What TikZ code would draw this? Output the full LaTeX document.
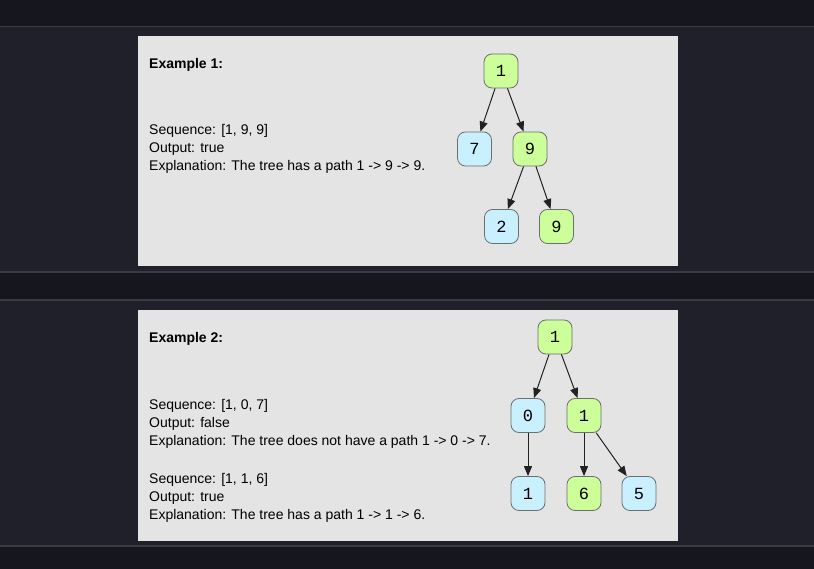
\documentclass[tikz,border=0pt]{standalone}
\usepackage{fontspec}
\setmainfont{Liberation Sans}
\newfontfamily\monofnt{Liberation Mono}
\usetikzlibrary{arrows.meta}
\definecolor{bgdark}{HTML}{16171E}
\definecolor{bglight}{HTML}{1F2029}
\definecolor{sepline}{HTML}{3A3B45}
\definecolor{panelbg}{HTML}{E4E4E4}
\definecolor{gnode}{HTML}{CCFF99}
\definecolor{bnode}{HTML}{C8F0FF}
\definecolor{nodeedge}{HTML}{6E6E6E}
\definecolor{arrowc}{HTML}{222222}
\tikzset{
  treenode/.style={draw=nodeedge, line width=0.8pt, rounded corners=8pt, minimum width=34pt, minimum height=34pt, inner sep=0pt, font=\monofnt\fontsize{17}{17}\selectfont},
  gn/.style={treenode, fill=gnode},
  bn/.style={treenode, fill=bnode},
  edgearrow/.style={draw=arrowc, line width=1pt, -{Triangle[length=10pt,width=8pt]}},
  txt/.style={anchor=base west, inner sep=0pt, font=\fontsize{14}{18}\selectfont, text=black},
  hdr/.style={txt, font=\bfseries\fontsize{14}{18}\selectfont},
}
\begin{document}
\begin{tikzpicture}[x=1pt,y=-1pt]
\useasboundingbox (0,0) rectangle (814,569);
% background bands
\fill[bgdark] (0,0) rectangle (814,569);
\fill[bglight] (0,27) rectangle (814,272);
\fill[bglight] (0,300) rectangle (814,546);
\draw[sepline, line width=1.2pt] (0,26.5) -- (814,26.5);
\draw[sepline, line width=1.2pt] (0,272) -- (814,272);
\draw[sepline, line width=1.2pt] (0,300) -- (814,300);
\draw[sepline, line width=1.2pt] (0,546) -- (814,546);
% panels
\fill[panelbg] (138,36) rectangle (678,266);
\fill[panelbg] (138,310) rectangle (678,541);

% Example 1 text
\node[hdr] (h1) at (149,68.3) {Example 1:};
\node[txt] (s1) at (149,135) {Sequence: [1, 9, 9]};
\node[txt] (o1) at (149,153) {Output: true};
\node[txt] (e1) at (149,171) {Explanation: The tree has a path 1 -> 9 -> 9.};

% Tree 1
\node[gn] (a1) at (501,71) {1};
\node[bn] (a7) at (474.5,149) {7};
\node[gn] (a9) at (530,149) {9};
\node[bn] (a2) at (501.5,226.5) {2};
\node[gn] (a9b) at (556.5,226.5) {9};
\draw[edgearrow] (a1) -- (a7);
\draw[edgearrow] (a1) -- (a9);
\draw[edgearrow] (a9) -- (a2);
\draw[edgearrow] (a9) -- (a9b);

% Example 2 text
\node[hdr] (h2) at (149,343) {Example 2:};
\node[txt] (s2) at (149,409.3) {Sequence: [1, 0, 7]};
\node[txt] (o2) at (149,427) {Output: false};
\node[txt] (e2) at (149,445.3) {Explanation: The tree does not have a path 1 -> 0 -> 7.};
\node[txt] (s3) at (149,483.5) {Sequence: [1, 1, 6]};
\node[txt] (o3) at (149,501.3) {Output: true};
\node[txt] (e3) at (149,519.5) {Explanation: The tree has a path 1 -> 1 -> 6.};

% Tree 2
\node[gn] (b1) at (555,337) {1};
\node[bn] (b0) at (528,415.5) {0};
\node[gn] (b1r) at (584,415.5) {1};
\node[bn] (b1l) at (528,493.5) {1};
\node[gn] (b6) at (584,493.5) {6};
\node[bn] (b5) at (639,493.5) {5};
\draw[edgearrow] (b1) -- (b0);
\draw[edgearrow] (b1) -- (b1r);
\draw[edgearrow] (b0) -- (b1l);
\draw[edgearrow] (b1r) -- (b6);
\draw[edgearrow] (b1r) -- (b5);
\end{tikzpicture}
\end{document}
